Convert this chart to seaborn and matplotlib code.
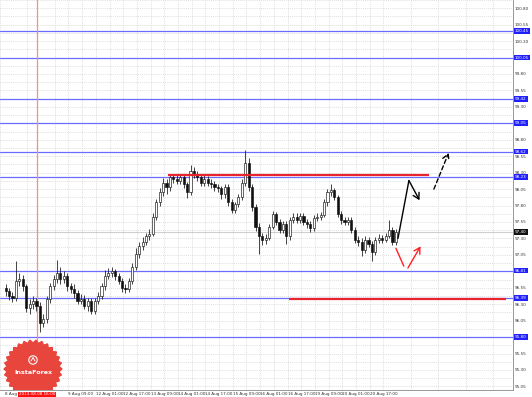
import numpy as np
import matplotlib
matplotlib.use("Agg")
import matplotlib.pyplot as plt
import matplotlib.transforms as mtrans
import seaborn as sns

# ---------------- data (H1 chart, 2 bars per candle) ----------------
opens = [96.55, 96.50, 96.42, 96.39, 96.65, 96.68, 96.57, 96.24, 96.30, 96.35,
         96.27, 96.02, 96.08, 96.38, 96.57, 96.68, 96.77, 96.68, 96.73, 96.57,
         96.53, 96.47, 96.35, 96.38, 96.27, 96.35, 96.20, 96.35, 96.42, 96.57,
         96.73, 96.77, 96.80, 96.73, 96.65, 96.54, 96.53, 96.65, 96.87, 97.07,
         97.18, 97.25, 97.33, 97.37, 97.63, 97.85, 98.00, 98.15, 98.08, 98.23,
         98.21, 98.18, 98.23, 98.12, 98.00, 98.33, 98.27, 98.23, 98.15, 98.21,
         98.15, 98.12, 98.08, 98.06, 97.97, 98.08, 97.85, 97.73, 97.82, 97.93,
         98.15, 98.45, 98.08, 97.78, 97.48, 97.33, 97.28, 97.31, 97.48, 97.67,
         97.55, 97.43, 97.52, 97.33, 97.58, 97.63, 97.58, 97.64, 97.55, 97.52,
         97.46, 97.61, 97.63, 97.66, 97.85, 98.00, 98.03, 97.93, 97.67, 97.58,
         97.55, 97.58, 97.43, 97.28, 97.25, 97.13, 97.28, 97.22, 97.10, 97.28,
         97.31, 97.28, 97.34, 97.43, 97.25]
closes = [96.50, 96.42, 96.39, 96.65, 96.68, 96.57, 96.24, 96.30, 96.35, 96.27,
          96.02, 96.08, 96.38, 96.57, 96.68, 96.77, 96.68, 96.73, 96.57, 96.53,
          96.47, 96.35, 96.38, 96.27, 96.35, 96.20, 96.35, 96.42, 96.57, 96.73,
          96.77, 96.80, 96.73, 96.65, 96.54, 96.53, 96.65, 96.87, 97.07, 97.18,
          97.25, 97.33, 97.37, 97.63, 97.85, 98.00, 98.15, 98.08, 98.23, 98.21,
          98.18, 98.23, 98.12, 98.00, 98.33, 98.27, 98.23, 98.15, 98.21, 98.15,
          98.12, 98.08, 98.06, 97.97, 98.08, 97.85, 97.73, 97.82, 97.93, 98.15,
          98.45, 98.08, 97.78, 97.48, 97.33, 97.28, 97.31, 97.48, 97.67, 97.55,
          97.43, 97.52, 97.33, 97.58, 97.63, 97.58, 97.64, 97.55, 97.52, 97.46,
          97.61, 97.63, 97.66, 97.85, 98.00, 98.03, 97.93, 97.67, 97.58, 97.55,
          97.58, 97.43, 97.28, 97.25, 97.13, 97.28, 97.22, 97.10, 97.28, 97.31,
          97.28, 97.34, 97.43, 97.25, 97.40]
highs = [96.60, 96.55, 96.48, 96.95, 96.78, 96.74, 96.60, 96.38, 96.42, 96.40,
         96.33, 96.15, 96.42, 96.62, 96.74, 96.97, 96.86, 96.80, 96.78, 96.62,
         96.60, 96.52, 96.45, 96.44, 96.40, 96.40, 96.40, 96.48, 96.62, 96.82,
         96.85, 96.86, 96.84, 96.78, 96.70, 96.60, 96.70, 96.92, 97.15, 97.24,
         97.32, 97.38, 97.44, 97.68, 97.90, 98.06, 98.22, 98.20, 98.28, 98.28,
         98.26, 98.28, 98.27, 98.16, 98.41, 98.38, 98.32, 98.27, 98.26, 98.25,
         98.20, 98.17, 98.13, 98.10, 98.13, 98.12, 97.90, 97.86, 97.97, 98.20,
         98.65, 98.52, 98.12, 97.83, 97.54, 97.38, 97.36, 97.52, 97.72, 97.70,
         97.60, 97.56, 97.56, 97.62, 97.68, 97.68, 97.68, 97.68, 97.60, 97.56,
         97.66, 97.68, 97.70, 97.90, 98.05, 98.12, 98.07, 97.96, 97.72, 97.63,
         97.63, 97.62, 97.47, 97.33, 97.30, 97.33, 97.32, 97.26, 97.32, 97.36,
         97.35, 97.38, 97.58, 97.47, 97.44]
lows = [96.42, 96.36, 96.33, 96.35, 96.58, 96.50, 96.18, 96.15, 96.22, 96.20,
        95.87, 95.95, 96.02, 96.32, 96.52, 96.62, 96.60, 96.62, 96.50, 96.47,
        96.40, 96.30, 96.30, 96.22, 96.20, 96.15, 96.15, 96.30, 96.38, 96.52,
        96.68, 96.72, 96.67, 96.60, 96.48, 96.47, 96.48, 96.60, 96.82, 97.00,
        97.12, 97.20, 97.28, 97.33, 97.58, 97.80, 97.95, 97.98, 98.02, 98.15,
        98.12, 98.12, 98.06, 97.92, 97.96, 98.22, 98.18, 98.10, 98.10, 98.10,
        98.06, 98.02, 98.00, 97.90, 97.92, 97.80, 97.68, 97.68, 97.78, 97.88,
        98.10, 98.02, 97.72, 97.42, 97.07, 97.20, 97.22, 97.27, 97.44, 97.50,
        97.38, 97.38, 97.22, 97.28, 97.53, 97.53, 97.54, 97.50, 97.46, 97.40,
        97.42, 97.56, 97.58, 97.62, 97.80, 97.95, 97.88, 97.62, 97.52, 97.50,
        97.50, 97.38, 97.23, 97.18, 97.03, 97.08, 97.17, 96.95, 97.05, 97.23,
        97.23, 97.24, 97.30, 97.20, 97.20]

level_values = [100.45, 100.05, 99.42, 99.05, 98.62, 98.23, 96.81, 96.39, 95.80]
current_price = 97.40
ytick_values = [95.05, 95.30, 95.55, 95.80, 96.05, 96.30, 96.55, 96.80, 97.05, 97.30,
                97.55, 97.80, 98.05, 98.30, 98.55, 98.80, 99.05, 99.30, 99.55, 99.80,
                100.05, 100.30, 100.55, 100.80]
xtick_labels = ["9 Aug 09:00", "12 Aug 01:00", "12 Aug 17:00", "13 Aug 09:00",
                "14 Aug 01:00", "14 Aug 17:00", "15 Aug 09:00", "16 Aug 01:00",
                "16 Aug 17:00", "19 Aug 09:00", "20 Aug 01:00", "20 Aug 17:00"]
first_label = "8 Aug"
cursor_label = "2013.08.08 16:00"
cursor_x = 9.07
resist_line = (47.3, 123.6, 98.266)
support_line = (82.7, 146.2, 96.386)
black_path_x = [114.6, 117.8, 120.9]
black_path_y = [97.30, 98.18, 97.88]
dashed_arrow = (125.1, 98.05, 129.4, 98.60)
red_path_x = [114.0, 116.3]
red_path_y = [97.15, 96.88]
red_arrow = (117.5, 96.85, 121.2, 97.18)

# ---------------- figure ----------------
sns.set_theme(style="white")
plt.rcParams['font.family'] = ['DejaVu Sans']

W, H = 532, 397
fig = plt.figure(figsize=(W / 100, H / 100), dpi=100)
fig.patch.set_facecolor("white")
plot_right = 513
plot_bottom = 390
ax = fig.add_axes([0, 1 - plot_bottom / H, plot_right / W, plot_bottom / H])
ax.set_facecolor("white")
ax.set_xlim(-0.49, (plot_right - 1.7) / 3.45)
ax.set_ylim(100.86 - plot_bottom / 66.5, 100.86)

FS = 3.0
# grid + ticks
xt = [18.35 + 8 * k for k in range(len(xtick_labels))]
ax.set_xticks(xt)
ax.set_xticklabels(xtick_labels)
ax.set_xticks([18.35 + 4 * k for k in range(-5, 33, 2)], minor=True)
ax.yaxis.tick_right()
ax.set_yticks(ytick_values)
ax.set_yticklabels([f"{v:.2f}" for v in ytick_values])
ax.set_yticks([v + 0.125 for v in ytick_values], minor=True)
ax.grid(which="both", color="#d4d4d4", linestyle=(0, (1.5, 1.5)), linewidth=0.5)
ax.tick_params(axis="both", which="both", labelsize=FS, length=0, pad=1.5,
               colors="#333333")
for lbl in ax.get_xticklabels():
    lbl.set_ha("left")
for s in ["top", "left"]:
    ax.spines[s].set_visible(False)
for s in ["right", "bottom"]:
    ax.spines[s].set_color("#888888")
    ax.spines[s].set_linewidth(0.6)

xtr = mtrans.blended_transform_factory(ax.transData, ax.transAxes)
# first partial date label
ax.text(-0.2, -0.006, first_label, transform=xtr,
        fontsize=FS, color="#333333", ha="left", va="top", clip_on=False)

# current price line
ax.axhline(current_price, color="#cfcfcf", lw=0.8, zorder=1)

# blue levels
for v in level_values:
    ax.axhline(v, color="#6b6bff", lw=0.9, zorder=2)

# cursor vertical line
ax.axvline(cursor_x, color="#ff8a8a", lw=0.9, zorder=2)

# candles
x = np.arange(len(closes))
ax.vlines(x, lows, highs, color="#111111", lw=0.55, zorder=3)
o = np.array(opens)
c = np.array(closes)
bottoms = np.minimum(o, c)
heights = np.maximum(np.abs(c - o), 0.006)
face = ["white" if cc >= oo else "#111111" for oo, cc in zip(o, c)]
ax.bar(x, heights, bottom=bottoms, width=0.62, color=face, edgecolor="#111111",
       linewidth=0.45, zorder=4)

# red horizontal lines
ax.hlines(resist_line[2], resist_line[0], resist_line[1], color="#e8242c", lw=1.6, zorder=5)
ax.hlines(support_line[2], support_line[0], support_line[1], color="#e8242c", lw=1.6, zorder=5)

# forecast arrows
sns.lineplot(x=black_path_x[:2], y=black_path_y[:2], sort=False, color="black", lw=1.0, ax=ax,
             zorder=6, estimator=None)
ax.annotate("", xy=(black_path_x[2], black_path_y[2]),
            xytext=(black_path_x[1], black_path_y[1]),
            arrowprops=dict(arrowstyle="->,head_length=0.35,head_width=0.2", lw=1.0, color="black",
                            shrinkA=0, shrinkB=0), zorder=6)
ax.annotate("", xy=(dashed_arrow[2], dashed_arrow[3]), xytext=(dashed_arrow[0], dashed_arrow[1]),
            arrowprops=dict(arrowstyle="->,head_length=0.35,head_width=0.2", lw=1.0, color="black",
                            linestyle=(0, (3, 2)), shrinkA=0, shrinkB=0), zorder=6)
ax.plot(red_path_x, red_path_y, color="#ff2020", lw=1.0, zorder=6)
ax.annotate("", xy=(red_arrow[2], red_arrow[3]), xytext=(red_arrow[0], red_arrow[1]),
            arrowprops=dict(arrowstyle="->,head_length=0.35,head_width=0.2", lw=1.0, color="#ff2020",
                            shrinkA=0, shrinkB=0), zorder=6)
if ax.get_legend() is not None:
    ax.get_legend().remove()
ax.set_xlabel("")
ax.set_ylabel("")

# axis price labels (blue levels + current)
btr = mtrans.blended_transform_factory(ax.transAxes, ax.transData)
for v in level_values:
    ax.text(1.004, v, f"{v:.2f}", transform=btr, fontsize=FS, color="white", ha="left",
            va="center", clip_on=False, zorder=10,
            bbox=dict(boxstyle="square,pad=0.2", fc="#1f1fff", ec="none"))
ax.text(1.004, current_price, f"{current_price:.2f}", transform=btr, fontsize=FS, color="white",
        ha="left", va="center", clip_on=False, zorder=10,
        bbox=dict(boxstyle="square,pad=0.2", fc="#111111", ec="none"))

# cursor time label
ax.text(cursor_x, -0.006, cursor_label, transform=xtr, fontsize=FS, color="white", ha="center",
        va="top", clip_on=False, zorder=10,
        bbox=dict(boxstyle="square,pad=0.15", fc="#ff1010", ec="none"))

# InstaForex logo (overlay in pixel coordinates, clipped at the plot bottom)
ov = fig.add_axes([0, 1 - plot_bottom / H, plot_right / W, plot_bottom / H], zorder=20)
ov.set_xlim(0, plot_right)
ov.set_ylim(plot_bottom, 0)
ov.axis("off")
ov.patch.set_alpha(0)
cx, cy = 33, 369
ang = np.linspace(0, 2 * np.pi, 2 * 30 + 1)
rad = np.where(np.arange(len(ang)) % 2 == 0, 29, 26)
ov.fill(cx + rad * np.cos(ang), cy + rad * np.sin(ang), color="#e8453c", zorder=1, clip_on=True)
ov.text(cx, cy + 3, "InstaForex", color="white", fontsize=4.6, ha="center", va="center",
        fontweight="bold", zorder=2)
ring = plt.Circle((cx, cy - 9), 4.2, fill=False, ec="white", lw=0.8, zorder=2)
ov.add_patch(ring)
ov.plot([cx - 2, cx, cx + 2], [cy - 8, cy - 11.5, cy - 8], color="white", lw=0.7, zorder=2)

fig.savefig("out.png", dpi=100, facecolor="white")
